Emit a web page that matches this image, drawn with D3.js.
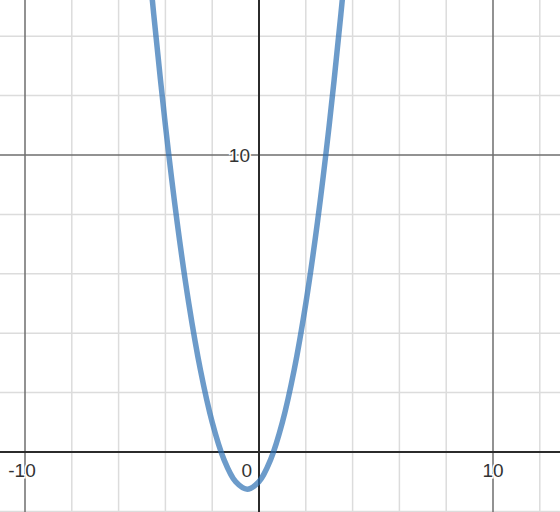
<!DOCTYPE html>
<html>
<head>
<meta charset="utf-8">
<script src="https://cdn.jsdelivr.net/npm/d3@7"></script>
<style>
  html, body { margin: 0; padding: 0; background: #fff; }
  svg { display: block; }
</style>
</head>
<body>
<div id="chart"></div>
<script>
// points
var curveX = [-4.75, -4.5, -4, -3.5, -3, -2.5, -2, -1.5, -1, -0.5, 0, 0.5, 1, 1.5, 2, 2.5, 3, 3.5, 3.75];
var curveY = [16.8, 14.75, 11, 7.75, 5, 2.75, 1, -0.25, -1, -1.25, -1, -0.25, 1, 2.75, 5, 7.75, 11, 14.75, 16.8];

var xTicks = [-10, 0, 10];
var yTicks = [10];
var xMinor = [-12, -10, -8, -6, -4, -2, 0, 2, 4, 6, 8, 10, 12];
var yMinor = [-2, 0, 2, 4, 6, 8, 10, 12, 14, 16];

var width = 560,
    height = 512;

// x: 0 at px 259, 10 at px 493 ; y: 0 at px 452, 10 at px 155
var x = d3.scaleLinear().domain([0, 10]).range([259, 493]);
var y = d3.scaleLinear().domain([0, 10]).range([452, 155]);

var svg = d3.select('#chart').append('svg')
    .attr('width', width)
    .attr('height', height);

svg.append('defs').append('clipPath').attr('id', 'clip')
    .append('rect').attr('width', width).attr('height', height);

var grid = svg.append('g');

// minor grid
grid.selectAll('.vminor').data(xMinor.filter(function(d) { return d % 10 !== 0; }))
    .enter().append('line')
    .attr('x1', function(d) { return x(d); })
    .attr('x2', function(d) { return x(d); })
    .attr('y1', 0).attr('y2', height)
    .attr('stroke', '#dcdcdc').attr('stroke-width', 1.5);

grid.selectAll('.hminor').data(yMinor.filter(function(d) { return d % 10 !== 0; }))
    .enter().append('line')
    .attr('y1', function(d) { return y(d); })
    .attr('y2', function(d) { return y(d); })
    .attr('x1', 0).attr('x2', width)
    .attr('stroke', '#dcdcdc').attr('stroke-width', 1.5);

// major grid
grid.selectAll('.vmajor').data(xTicks.filter(function(d) { return d !== 0; }))
    .enter().append('line')
    .attr('x1', function(d) { return x(d); })
    .attr('x2', function(d) { return x(d); })
    .attr('y1', 0).attr('y2', height)
    .attr('stroke', '#6e6e6e').attr('stroke-width', 1.5);

grid.selectAll('.hmajor').data(yTicks)
    .enter().append('line')
    .attr('y1', function(d) { return y(d); })
    .attr('y2', function(d) { return y(d); })
    .attr('x1', 0).attr('x2', width)
    .attr('stroke', '#6e6e6e').attr('stroke-width', 1.5);

// axes
grid.append('line')
    .attr('x1', 0).attr('x2', width)
    .attr('y1', y(0)).attr('y2', y(0))
    .attr('stroke', '#2b2b2b').attr('stroke-width', 2);
grid.append('line')
    .attr('x1', x(0)).attr('x2', x(0))
    .attr('y1', 0).attr('y2', height)
    .attr('stroke', '#2b2b2b').attr('stroke-width', 2);

// tick labels
var labels = svg.append('g')
    .attr('font-family', 'Arial, "Liberation Sans", sans-serif')
    .attr('font-size', 19)
    .attr('fill', '#333');

labels.selectAll('.xl').data(xTicks)
    .enter().append('text')
    .attr('x', function(d) { return d === 0 ? x(d) - 7 : d < 0 ? x(d) - 3 : x(d); })
    .attr('y', y(0) + 25)
    .attr('text-anchor', function(d) { return d === 0 ? 'end' : 'middle'; })
    .attr('stroke', '#fff').attr('stroke-width', 3).attr('paint-order', 'stroke')
    .text(function(d) { return d; });

labels.selectAll('.yl').data(yTicks)
    .enter().append('text')
    .attr('x', x(0) - 9)
    .attr('y', function(d) { return y(d) + 7; })
    .attr('text-anchor', 'end')
    .attr('stroke', '#fff').attr('stroke-width', 3).attr('paint-order', 'stroke')
    .text(function(d) { return d; });

// curve
var pts = curveX.map(function(d, i) { return [d, curveY[i]]; });
var line = d3.line()
    .x(function(d) { return x(d[0]); })
    .y(function(d) { return y(d[1]); })
    .curve(d3.curveCatmullRom);

svg.append('path')
    .datum(pts)
    .attr('clip-path', 'url(#clip)')
    .attr('d', line)
    .attr('fill', 'none')
    .attr('stroke', '#2d70b3')
    .attr('stroke-opacity', 0.7)
    .attr('stroke-width', 5.5)
    .attr('stroke-linejoin', 'round');
</script>
</body>
</html>
